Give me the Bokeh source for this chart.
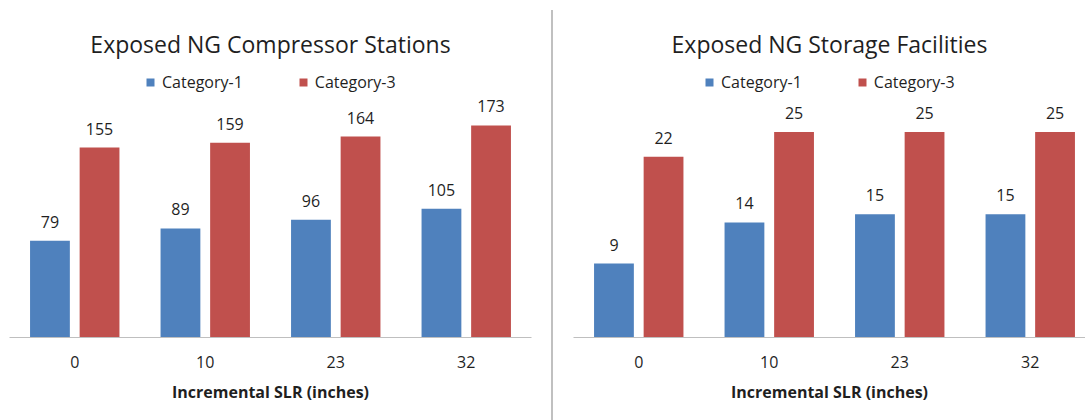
import numpy as np
from bokeh.plotting import figure
from bokeh.models import (ColumnDataSource, Range1d, FixedTicker, LabelSet, Label,
                          Legend, LegendItem, Div)
from bokeh.core.properties import value
from bokeh.layouts import row
from bokeh.embed import file_html
from bokeh.resources import INLINE

# ---------------- data ----------------
slr_levels = ["0", "10", "23", "32"]
series_names = ["Category-1", "Category-3"]
compressor_cat1 = [79, 89, 96, 105]
compressor_cat3 = [155, 159, 164, 173]
storage_cat1 = [9, 14, 15, 15]
storage_cat3 = [22, 25, 25, 25]

BLUE = "#4F81BD"
RED = "#C0504D"
FONT = "Open Sans"
TXT = "#1f1f1f"


def make_panel(title, v1, v3, width, border_left, border_right, x_end, y_end):
    p = figure(width=width, height=420, output_backend="svg", toolbar_location=None,
               x_range=Range1d(0, x_end), y_range=Range1d(0, y_end),
               y_axis_location=None, min_border_left=border_left,
               min_border_right=border_right, min_border_top=0, min_border_bottom=83)
    p.outline_line_color = None
    p.xgrid.visible = False
    p.ygrid.visible = False
    p.background_fill_color = "white"
    p.border_fill_color = "white"

    idx = np.arange(len(slr_levels)) + 0.5
    off, bw = 0.19, 0.305
    s1 = ColumnDataSource(dict(x=idx - off, top=v1, lab=[str(v) for v in v1]))
    s3 = ColumnDataSource(dict(x=idx + off, top=v3, lab=[str(v) for v in v3]))
    r1 = p.vbar(x="x", top="top", width=bw, source=s1, fill_color=BLUE, line_color=None)
    r3 = p.vbar(x="x", top="top", width=bw, source=s3, fill_color=RED, line_color=None)

    for s in (s1, s3):
        p.add_layout(LabelSet(x="x", y="top", text="lab", source=s, text_align="center",
                              text_baseline="alphabetic", y_offset=13,
                              text_font=value(FONT), text_font_size=value("16px"),
                              text_color=TXT))

    ax = p.xaxis[0]
    ax.ticker = FixedTicker(ticks=list(idx))
    ax.major_label_overrides = {float(i): lab for i, lab in zip(idx, slr_levels)}
    ax.major_tick_line_color = None
    ax.major_tick_out = 0
    ax.major_tick_in = 0
    ax.minor_tick_line_color = None
    ax.axis_line_color = "#bfbfbf"
    ax.major_label_text_font = FONT
    ax.major_label_text_font_size = "16px"
    ax.major_label_text_color = TXT
    ax.major_label_standoff = 18
    ax.axis_label = "Incremental SLR (inches)"
    ax.axis_label_text_font = FONT
    ax.axis_label_text_font_size = "16px"
    ax.axis_label_text_font_style = "bold"
    ax.axis_label_text_color = TXT
    ax.axis_label_standoff = 10

    fw = width - border_left - border_right
    p.add_layout(Label(x=fw / 2, y=294, x_units="screen", y_units="screen", text=title,
                       text_align="center", text_baseline="middle", text_font=FONT,
                       text_font_size="23px", text_color=TXT))

    leg = Legend(items=[LegendItem(label=series_names[0], renderers=[r1]),
                        LegendItem(label=series_names[1], renderers=[r3])],
                 orientation="horizontal", location=(fw / 2 - 125, 244),
                 glyph_width=10, glyph_height=10, label_standoff=7, spacing=55,
                 padding=0, margin=0, border_line_color=None, background_fill_alpha=0,
                 label_text_font=FONT, label_text_font_size="16px",
                 label_text_color=TXT)
    p.add_layout(leg)
    return p


left = make_panel("Exposed NG Compressor Stations", compressor_cat1, compressor_cat3,
                  width=551, border_left=9, border_right=20, x_end=4, y_end=275)
right = make_panel("Exposed NG Storage Facilities", storage_cat1, storage_cat3,
                   width=532, border_left=20, border_right=0, x_end=512 / 130.5, y_end=41)

sep = Div(text="", width=2, height=410, margin=(10, 0, 0, 0),
          styles={"background-color": "#c0c0c0"})

layout = row(left, sep, right)
open("out.html", "w").write(file_html(layout, INLINE))
